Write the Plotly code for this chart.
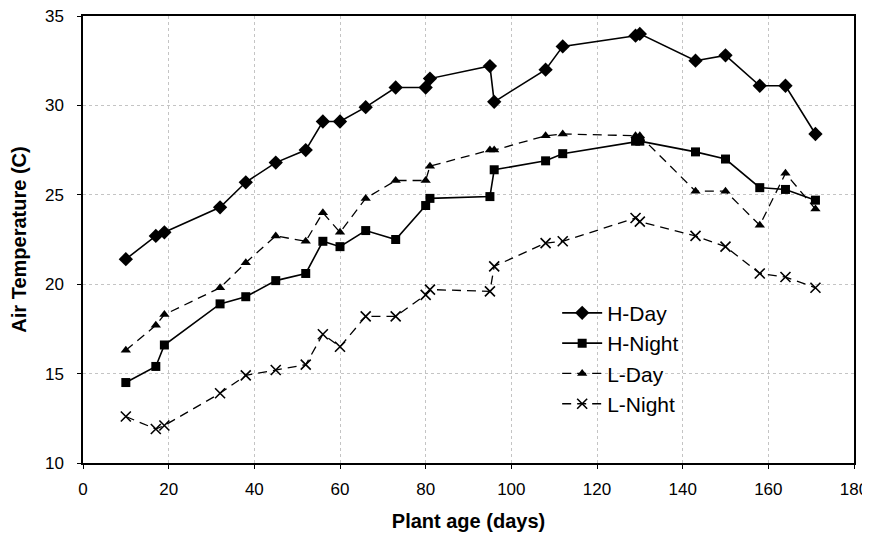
import plotly.graph_objects as go

days = [10, 17, 19, 32, 38, 45, 52, 56, 60, 66, 73, 80, 81, 95, 96, 108, 112, 129, 130, 143, 150, 158, 164, 171]

h_day = [21.4, 22.7, 22.9, 24.3, 25.7, 26.8, 27.5, 29.1, 29.1, 29.9, 31.0, 31.0, 31.5, 32.2, 30.2, 32.0, 33.3, 33.9, 34.0, 32.5, 32.8, 31.1, 31.1, 28.4]
h_night = [14.5, 15.4, 16.6, 18.9, 19.3, 20.2, 20.6, 22.4, 22.1, 23.0, 22.5, 24.4, 24.8, 24.9, 26.4, 26.9, 27.3, 28.0, 28.0, 27.4, 27.0, 25.4, 25.3, 24.7]
l_day = [16.3, 17.7, 18.3, 19.8, 21.2, 22.7, 22.4, 24.0, 22.9, 24.8, 25.8, 25.8, 26.6, 27.5, 27.5, 28.3, 28.4, 28.3, 28.3, 25.2, 25.2, 23.3, 26.2, 24.2]
l_night = [12.6, 11.9, 12.1, 13.9, 14.9, 15.2, 15.5, 17.2, 16.5, 18.2, 18.2, 19.4, 19.7, 19.6, 21.0, 22.3, 22.4, 23.7, 23.5, 22.7, 22.1, 20.6, 20.4, 19.8]

x_ticks = [0, 20, 40, 60, 80, 100, 120, 140, 160, 180]
y_ticks = [10, 15, 20, 25, 30, 35]

FONT = "Liberation Sans, Arial, sans-serif"

fig = go.Figure()
fig.add_trace(go.Scatter(x=days, y=h_day, name="H-Day", mode="lines+markers", legendgroup="a",
                         line=dict(color="black", width=1.6),
                         marker=dict(symbol="diamond", size=11, color="black")))
fig.add_trace(go.Scatter(x=days, y=h_night, name="H-Night", mode="lines+markers", legendgroup="b",
                         line=dict(color="black", width=1.6),
                         marker=dict(symbol="square", size=9, color="black")))
fig.add_trace(go.Scatter(x=days, y=l_day, name="L-Day", mode="lines+markers", legendgroup="c",
                         line=dict(color="black", width=1.3, dash="9px,6px"),
                         marker=dict(symbol="triangle-up", size=9, color="black")))
fig.add_trace(go.Scatter(x=days, y=l_night, name="L-Night", mode="lines+markers", legendgroup="d",
                         line=dict(color="black", width=1.3, dash="9px,6px"),
                         marker=dict(symbol="x-thin", size=10, color="black",
                                     line=dict(color="black", width=1.6))))

axis_common = dict(
    showline=True, linecolor="black", linewidth=1.5, mirror=True,
    ticks="outside", ticklen=4, tickcolor="black",
    showgrid=True, gridcolor="#c4c4c4", gridwidth=1, griddash="dot",
    zeroline=False, automargin=False, ticklabeloverflow="allow",
    tickfont=dict(family=FONT, size=17, color="black"),
)

fig.update_xaxes(range=[0, 180], tickvals=x_ticks, ticklabelstandoff=6,
                 title=dict(text="<b>Plant age (days)</b>", font=dict(family=FONT, size=20, color="black"), standoff=16),
                 **axis_common)
fig.update_yaxes(range=[10, 35], tickvals=y_ticks, ticklabelstandoff=10,
                 title=dict(text="<b>Air Temperature (C)</b>", font=dict(family=FONT, size=20, color="black"), standoff=19),
                 **axis_common)

# the page body adds an 8px offset, so the figure is 8px smaller and margins shifted
fig.update_layout(
    width=862, height=528,
    margin=dict(l=75, r=16, t=8, b=73),
    plot_bgcolor="white", paper_bgcolor="white",
    font=dict(family=FONT, color="black"),
    legend=dict(x=0.615, y=0.381, xanchor="left", yanchor="top",
                bgcolor="rgba(0,0,0,0)", font=dict(family=FONT, size=21, color="black"),
                tracegroupgap=0, itemwidth=40),
)

fig.write_html("out.html")
